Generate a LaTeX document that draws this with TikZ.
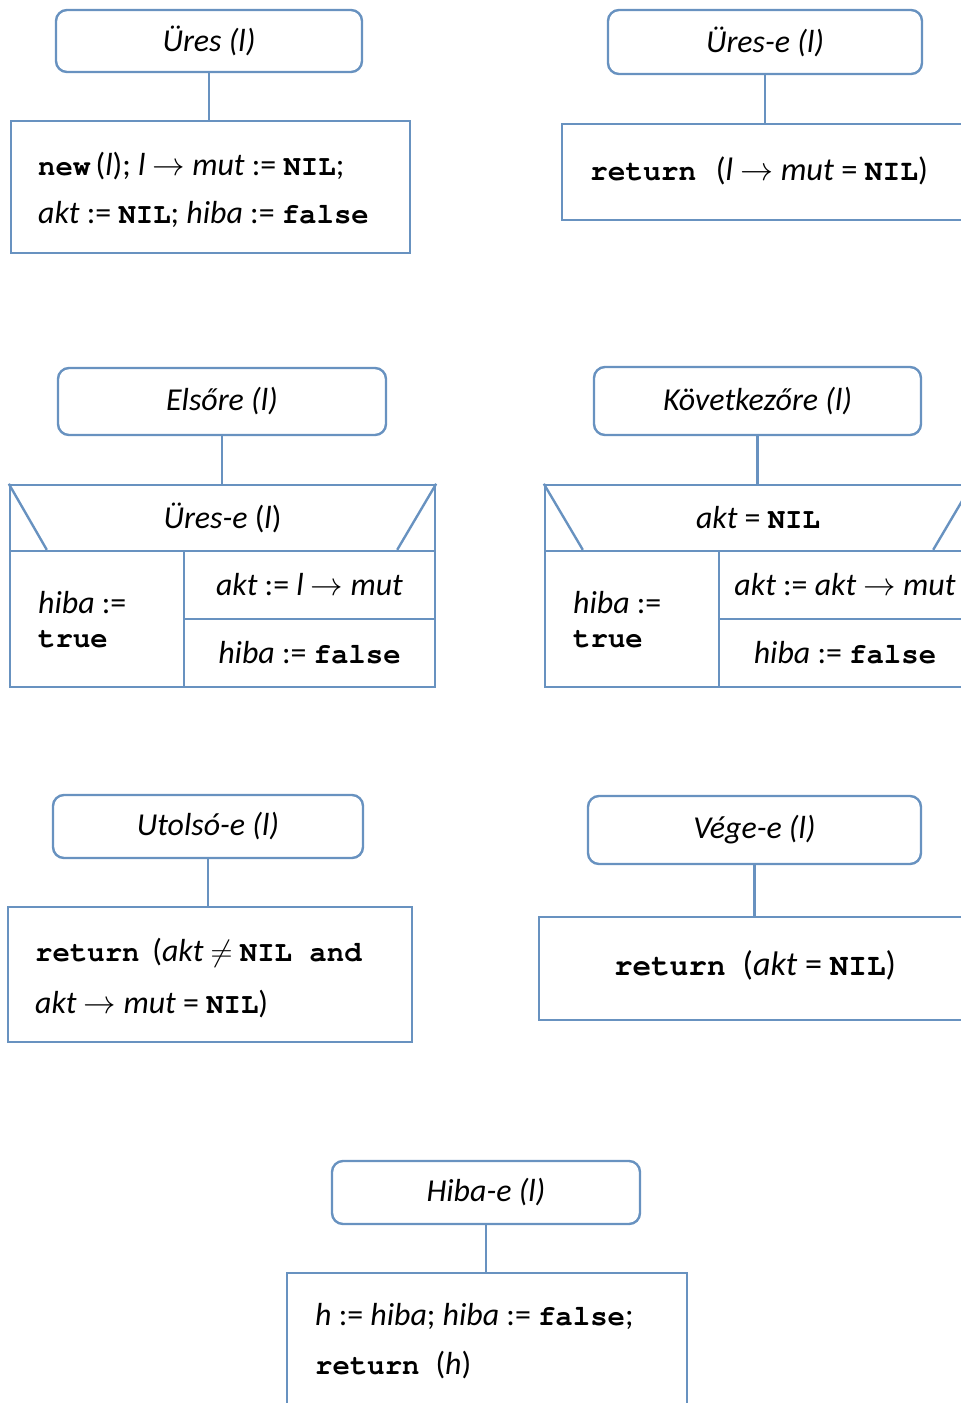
\RequirePackage{fix-cm}
\documentclass[tikz,border=0pt]{standalone}
\usepackage[T1]{fontenc}
\usepackage{fontspec}
\setmainfont{Carlito}[Scale=1.1]
% Courier for keywords
\newcommand\cour{\fontencoding{T1}\fontfamily{pcr}\selectfont}
\newcommand\kwd[1]{{\cour\bfseries #1}}
\newcommand\Var[1]{\textit{#1}}
\newcommand\parrow{\scalebox{1.12}{$\rightarrow$}}
\newcommand\pneq{\scalebox{1.05}{$\neq$}}
\definecolor{nsblue}{RGB}{104,146,192}
\begin{document}
\begin{tikzpicture}[x=1pt,y=-1pt,
  ln/.style={draw=nsblue, line width=2.4pt},
  head/.style={ln, rounded corners=11pt, inner sep=0pt,
    font=\fontsize{29}{48}\selectfont\itshape},
  body/.style={ln, inner sep=0pt},
  cell/.style={ln, inner sep=0pt, font=\fontsize{29}{48}\selectfont},
  txt/.style={inner sep=0pt, align=left, anchor=west,
    font=\fontsize{29}{48}\selectfont},
  ctxt/.style={inner sep=0pt, align=center,
    font=\fontsize{29}{48}\selectfont},
  conn/.style={ln}]
\useasboundingbox (0,0) rectangle (961,1403);
\clip (0,0) rectangle (961,1403);

% --- Üres (l)
\node[head, minimum width=306pt, minimum height=62pt] (h1) at (209,41) {Üres (\Var{l})};
\node[body, minimum width=399pt, minimum height=132pt] (b1) at (210.5,187) {};
\node[txt, font=\fontsize{29}{48}\selectfont] (t1) at (38,190)
  {\kwd{new}\,(\Var{l}); \Var{l} \parrow{} \Var{mut} := \kwd{NIL};\\
   \Var{akt} := \kwd{NIL}; \Var{hiba} := \kwd{false}};
\draw[conn] (h1.south) -- (h1.south |- b1.north);

% --- Üres-e (l)
\node[head, minimum width=314pt, minimum height=64pt] (h2) at (765,42) {Üres-e (\Var{l})};
\node[body, minimum width=401pt, minimum height=96pt] (b2) at (762.5,172) {};
\node[ctxt, font=\fontsize{29.5}{48}\selectfont] (t2) at (759,171)
  {\kwd{return}\hspace{0.6em}(\Var{l} \parrow{} \Var{mut} = \kwd{NIL})};
\draw[conn] (h2.south) -- (h2.south |- b2.north);

% --- Elsőre (l)
\node[head, minimum width=328pt, minimum height=67pt] (h3) at (222,401.5) {Elsőre (\Var{l})};
\node[cell, minimum width=425pt, minimum height=66pt] (c3) at (222.5,518) {\Var{Üres-e} (\Var{l})};
\draw[ln] (c3.north west) -- ++(38,66);
\draw[ln] (c3.north east) -- ++(-39,66);
\node[cell, minimum width=174pt, minimum height=136pt] (l3) at (97,619) {};
\node[cell, minimum width=251pt, minimum height=68pt] (r3a) at (309.5,585) {\Var{akt} := \Var{l} \parrow{} \Var{mut}};
\node[cell, minimum width=251pt, minimum height=68pt] (r3b) at (309.5,653) {\Var{hiba} := \kwd{false}};
\node[txt, font=\fontsize{29}{34}\selectfont] (t3) at (38,620) {\Var{hiba} :=\\ \kwd{true}};
\draw[conn] (h3.south) -- (h3.south |- c3.north);

% --- Következőre (l)
\node[head, minimum width=327pt, minimum height=68pt] (h4) at (757.5,401) {Következőre (\Var{l})};
\node[cell, minimum width=426pt, minimum height=66pt] (c4) at (758,518) {\Var{akt} = \kwd{NIL}};
\draw[ln] (c4.north west) -- ++(39,66);
\draw[ln] (c4.north east) -- ++(-39,66);
\node[cell, minimum width=174pt, minimum height=136pt] (l4) at (632,619) {};
\node[cell, minimum width=252pt, minimum height=68pt] (r4a) at (845,585) {\Var{akt} := \Var{akt} \parrow{} \Var{mut}};
\node[cell, minimum width=252pt, minimum height=68pt] (r4b) at (845,653) {\Var{hiba} := \kwd{false}};
\node[txt, font=\fontsize{29}{34}\selectfont] (t4) at (573,620) {\Var{hiba} :=\\ \kwd{true}};
\draw[conn] (h4.south) -- (h4.south |- c4.north);

% --- Utolsó-e (l)
\node[head, minimum width=310pt, minimum height=63pt] (h5) at (208,826.5) {Utolsó-e (\Var{l})};
\node[body, minimum width=404pt, minimum height=135pt] (b5) at (210,974.5) {};
\node[txt, font=\fontsize{29}{52}\selectfont] (t5) at (35,978)
  {\kwd{return}\hspace{0.4em}(\Var{akt} \pneq{} \kwd{NIL and}\\
   \Var{akt} \parrow{} \Var{mut} = \kwd{NIL})};
\draw[conn] (h5.south) -- (h5.south |- b5.north);

% --- Vége-e (l)
\node[head, minimum width=333pt, minimum height=68pt] (h6) at (754.5,830) {Vége-e (\Var{l})};
\node[body, minimum width=432pt, minimum height=103pt] (b6) at (755,968.5) {};
\node[ctxt, font=\fontsize{31}{48}\selectfont] (t6) at (755,965)
  {\kwd{return}\hspace{0.5em}(\Var{akt} = \kwd{NIL})};
\draw[conn] (h6.south) -- (h6.south |- b6.north);

% --- Hiba-e (l)
\node[head, minimum width=308pt, minimum height=63pt] (h7) at (486,1192.5) {Hiba-e (\Var{l})};
\node[body, minimum width=400pt, minimum height=137pt] (b7) at (487,1341.5) {};
\node[txt, font=\fontsize{29}{49}\selectfont] (t7) at (315,1341.5)
  {\Var{h} := \Var{hiba}; \Var{hiba} := \kwd{false};\\
   \kwd{return}\hspace{0.5em}(\Var{h})};
\draw[conn] (h7.south) -- (h7.south |- b7.north);
\end{tikzpicture}
\end{document}
